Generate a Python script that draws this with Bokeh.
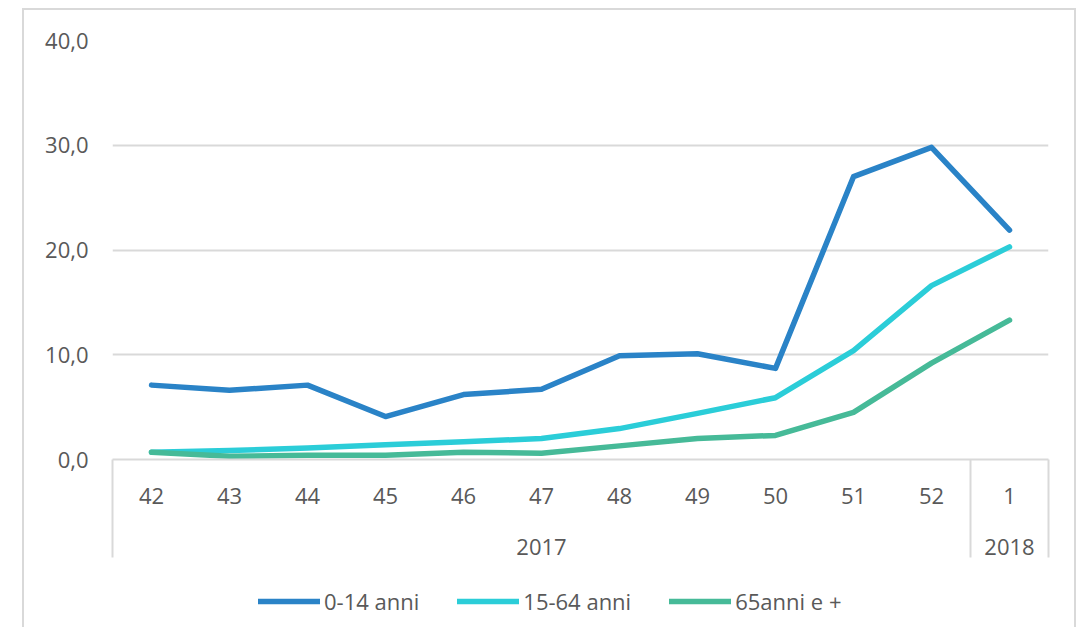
from bokeh.plotting import figure
from bokeh.layouts import column
from bokeh.models import (Range1d, LinearAxis, FixedTicker, Legend,
                          LegendItem, ColumnDataSource)
from bokeh.embed import file_html
from bokeh.resources import INLINE

# ---- data ----
weeks = ["42", "43", "44", "45", "46", "47", "48", "49", "50", "51", "52", "1"]
years = ["2017", "2018"]
weeks_per_year = [11, 1]
age_0_14 = [7.1, 6.6, 7.1, 4.1, 6.2, 6.7, 9.9, 10.1, 8.7, 27.0, 29.8, 21.9]
age_15_64 = [0.7, 0.85, 1.1, 1.4, 1.7, 2.0, 2.95, 4.4, 5.9, 10.4, 16.6, 20.3]
age_65_plus = [0.7, 0.3, 0.4, 0.4, 0.7, 0.6, 1.3, 2.0, 2.3, 4.5, 9.2, 13.3]
series_names = ["0-14 anni", "15-64 anni", "65anni e +"]
series_colors = ["#2a83c7", "#2bcdd8", "#46ba98"]
y_ticks = [0, 10, 20, 30, 40]
y_tick_labels = ["0,0", "10,0", "20,0", "30,0", "40,0"]

FONT = "Open Sans"
FSIZE = "22px"
TCOL = "#595959"
GRID = "#d9d9d9"
BORDER = "2px solid #d9d9d9"

n = len(weeks)
slot = list(range(n))          # category slot index of each week

W, H = 1054, 569
p = figure(width=W, height=H,
           x_range=Range1d(-0.5, n - 0.5),
           y_range=Range1d(0, 40),
           output_backend="svg", toolbar_location=None, x_axis_location=None,
           min_border_left=88, min_border_right=30, min_border_top=30,
           min_border_bottom=120)
p.margin = (8, 0, 0, 22)
p.styles = {"border-top": BORDER, "border-left": BORDER, "border-right": BORDER}
p.outline_line_color = None
p.background_fill_color = "white"
p.border_fill_color = "white"

# y axis
yt = FixedTicker(ticks=y_ticks)
p.yaxis.ticker = yt
p.yaxis.major_label_overrides = dict(zip(y_ticks, y_tick_labels))
p.yaxis.axis_line_color = None
p.yaxis.major_tick_line_color = None
p.yaxis.minor_tick_line_color = None
p.yaxis.major_tick_out = 0
p.yaxis.major_tick_in = 0
p.yaxis.major_label_standoff = 24
p.yaxis.major_label_text_font = FONT
p.yaxis.major_label_text_font_size = FSIZE
p.yaxis.major_label_text_color = TCOL
p.ygrid.ticker = yt
p.ygrid.grid_line_color = GRID
p.ygrid.grid_line_width = 2
p.xgrid.visible = False

# category axes: weeks, then years, with group separators
edges = [-0.5]
year_centers = []
start = 0
for cnt in weeks_per_year:
    year_centers.append(start + (cnt - 1) / 2)
    start += cnt
    edges.append(start - 0.5)

week_axis = LinearAxis(ticker=FixedTicker(ticks=slot),
                       major_label_overrides={c: w for c, w in zip(slot, weeks)},
                       axis_line_color=GRID, axis_line_width=2,
                       major_tick_line_color=None, major_tick_out=0, major_tick_in=0,
                       minor_tick_line_color=None, minor_tick_out=0, minor_tick_in=0,
                       major_label_standoff=28,
                       major_label_text_font=FONT, major_label_text_font_size=FSIZE,
                       major_label_text_color=TCOL)
p.add_layout(week_axis, "below")

year_axis = LinearAxis(ticker=FixedTicker(ticks=year_centers),
                       major_label_overrides={c: y for c, y in zip(year_centers, years)},
                       axis_line_color=None,
                       major_tick_line_color=None, major_tick_out=0, major_tick_in=0,
                       minor_tick_line_color=None, minor_tick_out=0, minor_tick_in=0,
                       major_label_standoff=32,
                       major_label_text_font=FONT, major_label_text_font_size=FSIZE,
                       major_label_text_color=TCOL)
p.add_layout(year_axis, "below")

# separator lines between category groups (minor ticks pointing up to the plot)
sep_axis = LinearAxis(ticker=FixedTicker(ticks=[slot[0]], minor_ticks=edges),
                      major_label_overrides={slot[0]: ""},
                      axis_line_color=None,
                      major_tick_line_color=None, major_tick_out=0, major_tick_in=0,
                      minor_tick_line_color=GRID, minor_tick_line_width=2,
                      minor_tick_out=0, minor_tick_in=98,
                      major_label_standoff=0, major_label_text_font_size="1px")
p.add_layout(sep_axis, "below")

# lines
src = ColumnDataSource(dict(x=slot, a=age_0_14, b=age_15_64, c=age_65_plus))
for col, color in zip(["a", "b", "c"], series_colors):
    p.line(x="x", y=col, source=src, line_color=color, line_width=5.5,
           line_cap="round", line_join="round")

# legend strip (bottom part of the chart area)
q = figure(width=W, height=50, x_range=Range1d(-0.5, n - 0.5), y_range=Range1d(100, 101),
           output_backend="svg", toolbar_location=None,
           x_axis_location=None, y_axis_location=None,
           min_border_left=0, min_border_right=0, min_border_top=0, min_border_bottom=0)
q.margin = (0, 0, 0, 22)
q.styles = {"border-left": BORDER, "border-right": BORDER}
q.outline_line_color = None
q.grid.visible = False
q.background_fill_color = "white"
q.border_fill_color = "white"
leg_renderers = []
for col, color in zip(["a", "b", "c"], series_colors):
    leg_renderers.append(q.line(x="x", y=col, source=src, line_color=color, line_width=5.5,
                                line_cap="round"))

legend = Legend(items=[LegendItem(label=nm, renderers=[r]) for nm, r in zip(series_names, leg_renderers)],
                orientation="horizontal", location=(146, 11),
                glyph_width=62, glyph_height=20, label_height=20, label_standoff=4,
                spacing=38, padding=0, margin=0,
                border_line_color=None, background_fill_alpha=0,
                label_text_font=FONT, label_text_font_size=FSIZE, label_text_color=TCOL)
q.add_layout(legend, "center")

layout = column(p, q, spacing=0)
open("out.html", "w").write(file_html(layout, INLINE))
